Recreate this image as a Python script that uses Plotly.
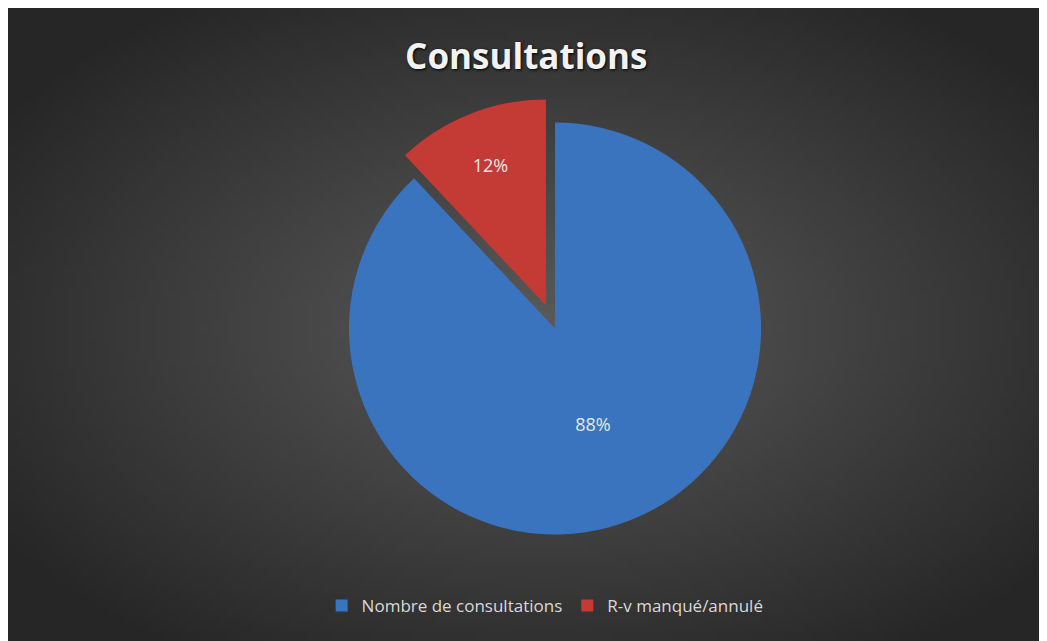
import zlib, struct, base64, math
import plotly.graph_objects as go

labels = ["Nombre de consultations", "R-v manqué/annulé"]
values = [88, 12]
colors = ["#3A74BE", "#C43A35"]
title_text = "Consultations"

# --- radial gradient background (styling only) ---
def make_png(w, h, cx, cy, c_in, c_out):
    rows = []
    for j in range(h):
        row = bytearray([0])
        for i in range(w):
            dx = (i / (w - 1) - cx) / 0.62
            dy = (j / (h - 1) - cy) / 0.62
            t = min(1.0, math.sqrt(dx * dx + dy * dy))
            v = int(round(c_in + (c_out - c_in) * t))
            row += bytes([v, v, v])
        rows.append(bytes(row))
    raw = b"".join(rows)
    def chunk(tag, data):
        c = struct.pack(">I", len(data)) + tag + data
        return c + struct.pack(">I", zlib.crc32(tag + data) & 0xffffffff)
    png = b"\x89PNG\r\n\x1a\n"
    png += chunk(b"IHDR", struct.pack(">IIBBBBB", w, h, 8, 2, 0, 0, 0))
    png += chunk(b"IDAT", zlib.compress(raw, 9))
    png += chunk(b"IEND", b"")
    return "data:image/png;base64," + base64.b64encode(png).decode()

bg = make_png(160, 100, 0.51, 0.5, 0x5A, 0x26)

W, H = 1047, 641
fig = go.Figure(go.Pie(
    labels=labels,
    values=values,
    sort=False,
    direction="clockwise",
    rotation=0,
    pull=[0, 0.12],
    marker=dict(colors=colors, line=dict(width=0)),
    textinfo="percent",
    texttemplate="%{percent:.0%}",
    textposition="inside",
    insidetextorientation="horizontal",
    textfont=dict(family="Open Sans, Liberation Sans, sans-serif", size=18, color="#e6e6e6"),
    domain=dict(x=[0.28, 0.765], y=[0.14, 0.86]),
    hoverinfo="label+percent",
))

fig.update_layout(
    width=W, height=H,
    margin=dict(l=0, r=0, t=0, b=0),
    paper_bgcolor="#2a2a2a",
    plot_bgcolor="rgba(0,0,0,0)",
    title=dict(
        text="<b>" + title_text + "</b>",
        x=0.495, xanchor="center", y=1 - 49 / H, yanchor="middle",
        font=dict(family="Open Sans, Liberation Sans, sans-serif", size=35, color="#f2f2f2",
                  shadow="1px 1px 3px #000"),
    ),
    legend=dict(
        orientation="h", x=0.513, xanchor="center", y=1 - 598 / H, yanchor="middle",
        font=dict(family="Open Sans, Liberation Sans, sans-serif", size=17, color="#d9d9d9"),
        bgcolor="rgba(0,0,0,0)", itemwidth=30,
    ),
    images=[dict(
        source=bg, xref="paper", yref="paper",
        x=0, y=1, sizex=1, sizey=1,
        xanchor="left", yanchor="top", sizing="stretch", layer="below",
    )],
)

fig.write_html("out.html")
